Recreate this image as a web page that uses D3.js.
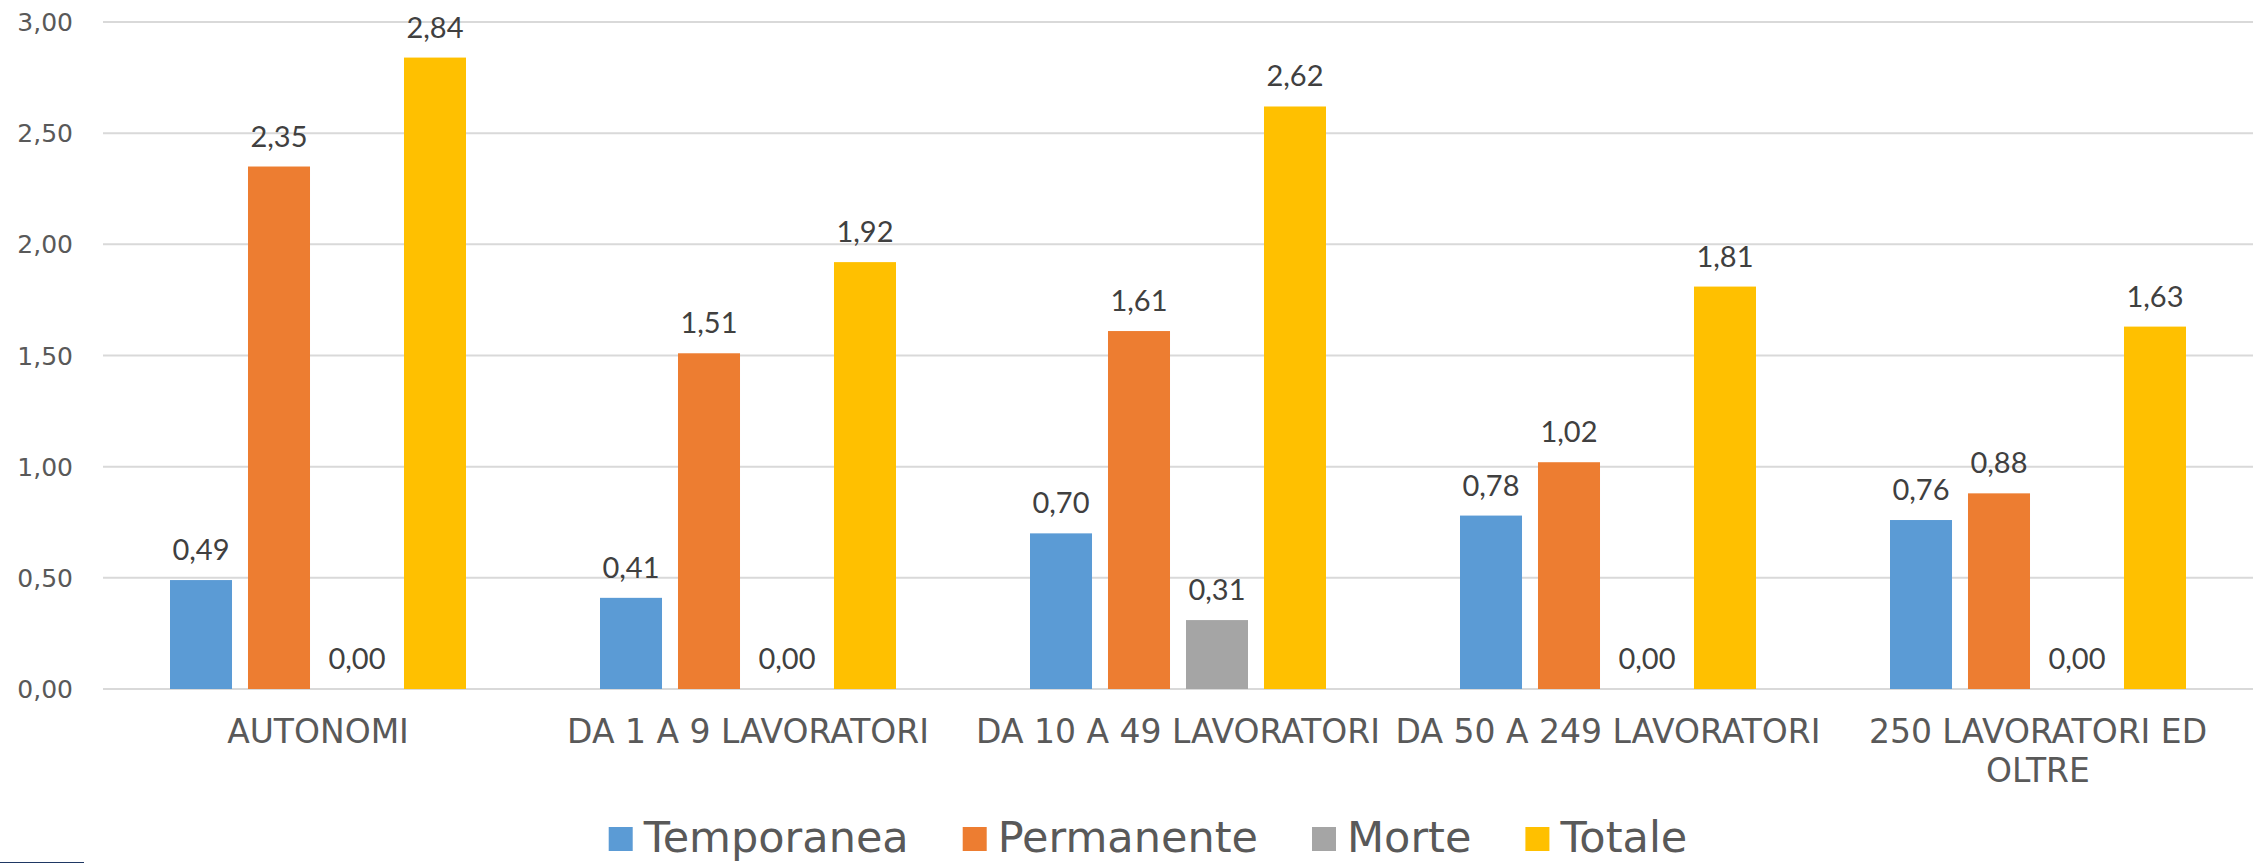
<!DOCTYPE html>
<html>
<head>
<meta charset="utf-8">
<script src="https://cdn.jsdelivr.net/npm/d3@7"></script>
<style>
  body { margin: 0; background: #fff; }
  svg { display: block; }
</style>
</head>
<body>
<svg id="chart" width="2257" height="863"></svg>
<script>
// categories and series
const categories = ["AUTONOMI", "DA 1 A 9 LAVORATORI", "DA 10 A 49 LAVORATORI",
                    "DA 50 A 249 LAVORATORI", "250 LAVORATORI ED OLTRE"];
const seriesNames = ["Temporanea", "Permanente", "Morte", "Totale"];
const temporanea = [0.49, 0.41, 0.70, 0.78, 0.76];
const permanente = [2.35, 1.51, 1.61, 1.02, 0.88];
const morte      = [0.00, 0.00, 0.31, 0.00, 0.00];
const totale     = [2.84, 1.92, 2.62, 1.81, 1.63];
const yTicks = [0, 0.5, 1, 1.5, 2, 2.5, 3];
const colors = ["#5B9BD5", "#ED7D31", "#A5A5A5", "#FFC000"];

const seriesValues = [temporanea, permanente, morte, totale];
const fmt = v => d3.format(".2f")(v).replace(".", ",");

const svg = d3.select("#chart");

let x0 = d3.scaleBand()
  .domain(categories)
  .range([103, 2253]);
let x1 = d3.scaleBand()
  .domain(seriesNames)
  .range([67, 363])
  .paddingInner(0.205);
let y = d3.scaleLinear()
  .domain([0, 3])
  .range([689, 22]);

// gridlines
svg.append("g")
  .selectAll("line")
  .data(yTicks)
  .join("line")
  .attr("x1", 103)
  .attr("x2", 2253)
  .attr("y1", d => y(d))
  .attr("y2", d => y(d))
  .attr("stroke", "#d9d9d9")
  .attr("stroke-width", 2);

// y labels
svg.append("g")
  .selectAll("text")
  .data(yTicks)
  .join("text")
  .attr("x", 73)
  .attr("y", d => y(d))
  .attr("dy", "0.36em")
  .attr("text-anchor", "end")
  .attr("font-family", "DejaVu Sans")
  .attr("font-size", 25)
  .attr("fill", "#595959")
  .text(fmt);

// bars
let rows = [];
categories.forEach((c, i) => {
  seriesNames.forEach((s, j) => {
    rows.push({cat: c, ser: s, v: seriesValues[j][i], color: colors[j]});
  });
});

let groups = svg.append("g");
groups.selectAll("rect")
  .data(rows)
  .join("rect")
  .attr("x", d => x0(d.cat) + x1(d.ser))
  .attr("y", d => y(d.v))
  .attr("width", x1.bandwidth())
  .attr("height", d => y(0) - y(d.v))
  .attr("fill", d => d.color);

groups.selectAll("text")
  .data(rows)
  .join("text")
  .attr("x", d => x0(d.cat) + x1(d.ser) + x1.bandwidth() / 2)
  .attr("y", d => y(d.v) - 20)
  .attr("text-anchor", "middle")
  .attr("font-family", "Lato")
  .attr("font-size", 29)
  .attr("fill", "#404040")
  .text(d => fmt(d.v));

// category labels, wrapped to the band width
let catLabels = svg.append("g")
  .selectAll("text")
  .data(categories)
  .join("text")
  .attr("x", d => x0(d) + x0.bandwidth() / 2)
  .attr("y", 743)
  .attr("text-anchor", "middle")
  .attr("font-family", "DejaVu Sans")
  .attr("font-size", 33)
  .attr("fill", "#595959");

catLabels.each(function(d) {
  let t = d3.select(this);
  let words = d.split(" ");
  let line = [];
  let tspan = t.append("tspan").attr("x", t.attr("x")).attr("dy", 0);
  for (let w of words) {
    line.push(w);
    tspan.text(line.join(" "));
    if (tspan.node().getComputedTextLength() > 440 && line.length > 1) {
      line.pop();
      tspan.text(line.join(" "));
      line = [w];
      tspan = t.append("tspan").attr("x", t.attr("x")).attr("dy", 39).text(w);
    }
  }
});

// legend
let legend = svg.append("g");
let items = legend.selectAll("g")
  .data(seriesNames)
  .join("g");
items.append("rect")
  .attr("width", 24)
  .attr("height", 24)
  .attr("y", 827)
  .attr("fill", (d, i) => colors[i]);
items.append("text")
  .attr("x", 35)
  .attr("y", 852)
  .attr("font-family", "DejaVu Sans")
  .attr("font-size", 43)
  .attr("fill", "#595959")
  .text(d => d);

let pos = 0;
let offsets = [];
items.each(function() {
  offsets.push(pos);
  let w = d3.select(this).select("text").node().getComputedTextLength();
  pos += 35 + w + 54;
});
let total = pos - 54;
let start = 1148 - total / 2;
items.attr("transform", (d, i) => "translate(" + (start + offsets[i]) + ",0)");

// small dark rule at the bottom-left corner
svg.append("line")
  .attr("x1", 0).attr("x2", 84)
  .attr("y1", 862.5).attr("y2", 862.5)
  .attr("stroke", "#1f3864")
  .attr("stroke-width", 1);
</script>
</body>
</html>
